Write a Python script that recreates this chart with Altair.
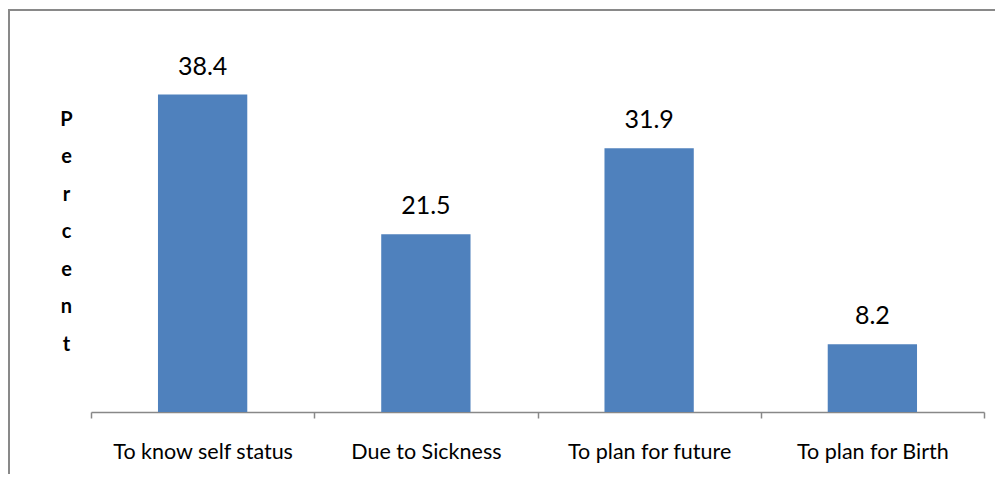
import altair as alt
import pandas as pd

categories = ["To know self status", "Due to Sickness", "To plan for future", "To plan for Birth"]
values = [38.4, 21.5, 31.9, 8.2]
y_title_letters = ["P", "e", "r", "c", "e", "n", "t"]

df = pd.DataFrame({"reason": categories, "percent": values})

W, H = 893, 372
FONT = "Lato"

base = alt.Chart(df)

x_enc = alt.X("reason:N", sort=categories,
              scale=alt.Scale(paddingInner=0, paddingOuter=0),
              axis=alt.Axis(title=None, labelAngle=0, domainColor="#888888", domainWidth=1.5,
                            tickColor="#888888", tickWidth=1.5, tickSize=6, tickBand="extent",
                            labelFont=FONT, labelFontSize=21.5, labelColor="#000000",
                            labelLimit=0, labelBaseline="alphabetic", labelPadding=40))
y_enc = alt.Y("percent:Q", scale=alt.Scale(domain=[0, 45]),
              axis=alt.Axis(title=y_title_letters, titleAngle=0, titleFont=FONT,
                            titleFontSize=20, titleFontWeight="bold", titleColor="#000000",
                            titleLineHeight=37.5, titleAlign="center", titleBaseline="top",
                            titleX=-25, titleY=69, labels=False, ticks=False,
                            domain=False, grid=False))

bars = base.mark_bar(color="#4F81BD", width=alt.RelativeBandSize(0.4)).encode(x=x_enc, y=y_enc)

labels = base.mark_text(font=FONT, fontSize=25, color="#000000", baseline="alphabetic",
                        dy=-20).encode(
    x=alt.X("reason:N", sort=categories),
    y="percent:Q",
    text=alt.Text("percent:Q", format=".1f"))

frame = alt.Chart(pd.DataFrame({"a": [0]})).mark_rect(
    fill=None, stroke="#898989", strokeWidth=2).encode(
    x=alt.value(-82), y=alt.value(-30), x2=alt.value(W + 300), y2=alt.value(H + 300))

chart = alt.layer(frame, bars, labels).properties(
    width=W, height=H,
    background="white",
    padding={"left": 83, "top": 32, "right": 11, "bottom": 62},
    autosize=alt.AutoSizeParams(type="none"),
).configure_view(stroke=None, strokeWidth=0)

chart.save("out.html", embed_options={"renderer": "svg", "actions": False})
